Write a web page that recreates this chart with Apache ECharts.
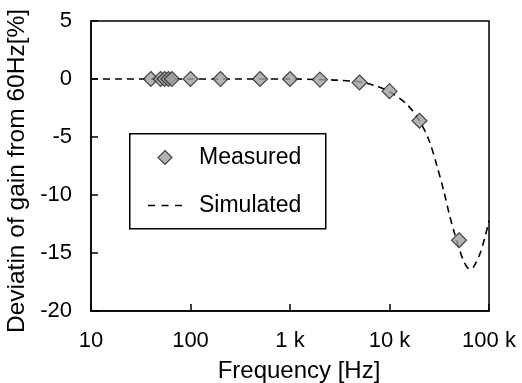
<!DOCTYPE html>
<html>
<head>
<meta charset="utf-8">
<script src="https://cdn.jsdelivr.net/npm/echarts@6/dist/echarts.min.js"></script>
<style>html,body{margin:0;padding:0;background:#fff}#c{width:522px;height:383px}</style>
</head>
<body>
<div id="c"></div>
<script>
var measuredFreq = [40, 50, 55, 60, 65, 100, 200, 500, 1000, 2000, 5000, 10000, 20000, 50000];
var measuredGain = [0, 0, 0, 0, 0, 0, 0, 0, 0, -0.05, -0.3, -1.05, -3.6, -13.9];
var simFreq = [10, 20, 50, 100, 200, 500, 1000, 2000, 3000, 5000, 7000, 10000, 15000, 20000, 25000, 30000, 35000, 40000, 45000, 50000, 55000, 60000, 65000, 70000, 80000, 90000, 100000];
var simGain = [0, 0, 0, 0, 0, 0, 0, -0.05, -0.1, -0.25, -0.55, -1.1, -2.2, -3.6, -5.3, -7.5, -9.6, -11.7, -13.3, -14.6, -15.6, -16.2, -16.4, -16.2, -15.2, -13.8, -12.2];
var xTickLabels = {10: '10', 100: '100', 1000: '1 k', 10000: '10 k', 100000: '100 k'};
var yTicks = [-20, -15, -10, -5, 0, 5];

var FONT = 'Liberation Sans, Arial, sans-serif';
var chart = echarts.init(document.getElementById('c'), null, {renderer: 'canvas'});
chart.setOption({
  animation: false,
  grid: {left: 91, right: 33, top: 21, bottom: 72, outerBoundsMode: 'none', containLabel: false,
    show: true, borderColor: '#000', borderWidth: 1.5, backgroundColor: 'transparent'},
  graphic: [{
    type: 'rect', left: 129, top: 133, z: 8,
    shape: {width: 196, height: 95},
    style: {fill: '#fff', stroke: '#000', lineWidth: 1.5}
  }],
  legend: {
    show: true, z: 10,
    left: 148, top: 146,
    orient: 'vertical',
    padding: 0,
    itemGap: 25,
    itemWidth: 34, itemHeight: 14,
    symbolKeepAspect: true,
    textStyle: {fontFamily: FONT, fontSize: 23, color: '#000', padding: [0, 0, 0, 12]},
    data: [
      {name: 'Measured', icon: 'path://M7 0L14 7L7 14L0 7Z',
       itemStyle: {color: '#a0a0a0', borderColor: '#222', borderWidth: 1.2}},
      {name: 'Simulated', icon: 'path://M0 0H7V1.6H0Z M13.5 0H20.5V1.6H13.5Z M27 0H34V1.6H27Z',
       itemStyle: {color: '#000', borderWidth: 0}}
    ]
  },
  xAxis: {
    type: 'log', logBase: 10, min: 10, max: 100000,
    name: 'Frequency [Hz]', nameLocation: 'middle', nameGap: 48,
    nameTextStyle: {fontFamily: FONT, fontSize: 24, color: '#000', padding: [0, 0, 0, 18]},
    axisLine: {show: true, onZero: false, lineStyle: {color: '#000', width: 1.5}},
    axisTick: {show: true, inside: true, length: 7, lineStyle: {color: '#000', width: 1.5}},
    minorTick: {show: false},
    splitLine: {show: false},
    axisLabel: {fontFamily: FONT, fontSize: 22, color: '#000', margin: 19,
      formatter: function (v) { return xTickLabels[Math.round(v)] || ''; }}
  },
  yAxis: {
    type: 'value', min: -20, max: 5, interval: 5,
    name: 'Deviatin of gain from 60Hz[%]', nameLocation: 'middle', nameGap: 54,
    nameTextStyle: {fontFamily: FONT, fontSize: 24.5, color: '#000', padding: [0, 10, 0, 0]},
    axisLine: {show: true, onZero: false, lineStyle: {color: '#000', width: 1.5}},
    axisTick: {show: true, inside: true, length: 7, lineStyle: {color: '#000', width: 1.5}},
    splitLine: {show: false},
    axisLabel: {fontFamily: FONT, fontSize: 22, color: '#000', margin: 19,
      formatter: function (v) { return yTicks.indexOf(v) >= 0 ? String(v) : ''; }}
  },
  series: [
    {
      name: 'Simulated', type: 'line',
      data: simFreq.map(function (f, i) { return [f, simGain[i]]; }),
      smooth: 0.3, symbol: 'none',
      lineStyle: {color: '#000', width: 1.6, type: [7, 5]},
      itemStyle: {color: '#000'},
      z: 2
    },
    {
      name: 'Measured', type: 'scatter',
      data: measuredFreq.map(function (f, i) { return [f, measuredGain[i]]; }),
      symbol: 'diamond', symbolSize: 15,
      itemStyle: {color: '#a0a0a0', borderColor: '#222', borderWidth: 1.2},
      z: 3
    }
  ]
});
</script>
</body>
</html>
